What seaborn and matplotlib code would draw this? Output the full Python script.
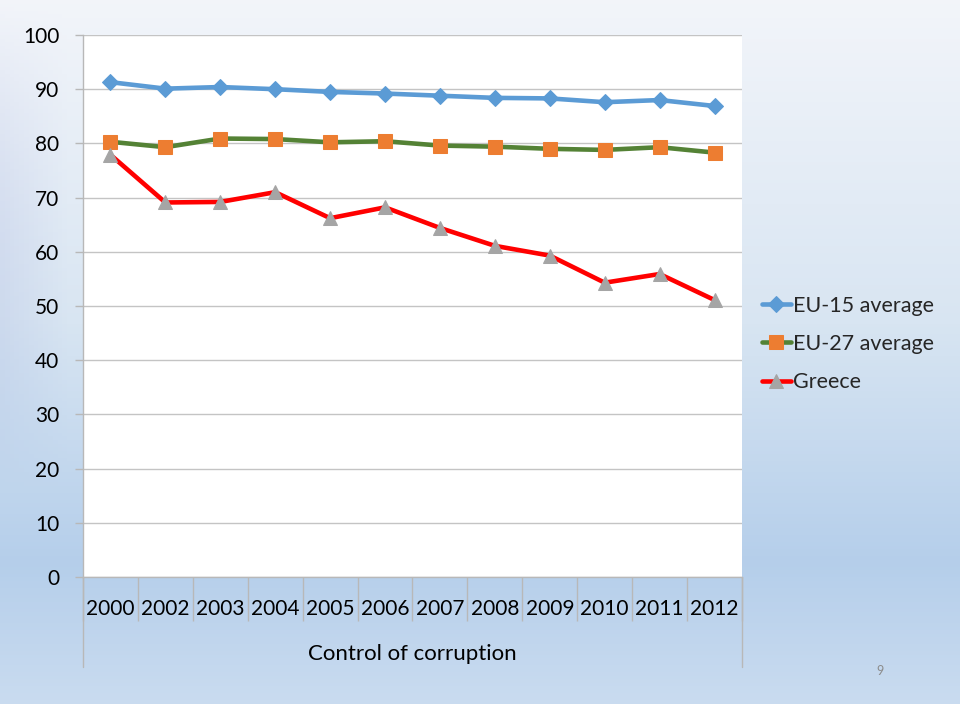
import numpy as np
import pandas as pd
import matplotlib
matplotlib.use('Agg')
import matplotlib.pyplot as plt
import seaborn as sns

# data
years = ['2000', '2002', '2003', '2004', '2005', '2006',
         '2007', '2008', '2009', '2010', '2011', '2012']
eu15 = [91.3, 90.1, 90.4, 90.0, 89.5, 89.2, 88.8, 88.4, 88.3, 87.6, 88.0, 86.9]
eu27 = [80.3, 79.3, 80.9, 80.8, 80.2, 80.4, 79.6, 79.4, 79.0, 78.8, 79.3, 78.3]
greece = [77.9, 69.1, 69.2, 71.0, 66.2, 68.2, 64.4, 61.1, 59.3, 54.3, 55.9, 51.1]
series_names = ['EU-15 average', 'EU-27 average', 'Greece']
axis_title = 'Control of corruption'

df = pd.DataFrame({'year': years, 'EU-15 average': eu15,
                   'EU-27 average': eu27, 'Greece': greece})

sns.set_style('white')
plt.rcParams['font.family'] = ['Lato', 'DejaVu Sans']

W, H = 960, 704
fig = plt.figure(figsize=(W / 100, H / 100), dpi=100)

# slide background: light-blue gradient
bg = fig.add_axes([0, 0, 1, 1], zorder=-10)
yy = np.linspace(0, 1, 200)[:, None]
xx = np.linspace(0, 1, 200)[None, :]
stops_y = [0.0, 0.45, 0.80, 1.0]
stops_c = np.array([[0.95, 0.96, 0.98], [0.85, 0.90, 0.95],
                    [0.71, 0.81, 0.92], [0.79, 0.86, 0.94]])
img = np.zeros((200, 200, 3))
for c in range(3):
    col = np.interp(yy[:, 0], stops_y, stops_c[:, c])[:, None]
    edge = 0.05 * np.clip(1 - xx / 0.07, 0, 1) * np.sin(np.pi * np.clip(yy / 0.7, 0, 1))
    img[:, :, c] = col - edge * (1.0 if c < 2 else 0.4)
bg.imshow(np.clip(img, 0, 1), aspect='auto', extent=[0, 1, 0, 1], origin='upper')
bg.axis('off')

# plot area
x0, x1, y0, y1 = 83, 742, 35, 577
ax = fig.add_axes([x0 / W, (H - y1) / H, (x1 - x0) / W, (y1 - y0) / H])
ax.set_facecolor('white')

styles = {
    'EU-15 average': dict(color='#5b9bd5', marker='D', markersize=8,
                          markerfacecolor='#5b9bd5', markeredgecolor='#5b9bd5'),
    'EU-27 average': dict(color='#548235', marker='s', markersize=10,
                          markerfacecolor='#ed7d31', markeredgecolor='#ed7d31'),
    'Greece': dict(color='#ff0000', marker='^', markersize=10,
                   markerfacecolor='#a5a5a5', markeredgecolor='#a5a5a5'),
}
for name in series_names:
    sns.lineplot(data=df, x='year', y=name, ax=ax, label=name,
                 linewidth=3.3, sort=False, **styles[name])

ax.set_xlim(-0.5, len(years) - 0.5)
ax.set_ylim(0, 100)
ax.set_yticks(range(0, 101, 10))
ax.set_xticks(range(len(years)))
ax.set_xticklabels(years)
ax.set_xlabel('')
ax.set_ylabel('')
ax.grid(axis='y', color='#c4c4c4', linewidth=1)
ax.set_axisbelow(True)
for s in ['top', 'right']:
    ax.spines[s].set_visible(False)
for s in ['left', 'bottom']:
    ax.spines[s].set_color('#b8b8b8')
    ax.spines[s].set_linewidth(1)

ax.tick_params(axis='y', length=6, width=1, color='#b8b8b8', pad=11,
               labelsize=15, labelcolor='black', left=True)
ax.tick_params(axis='x', which='major', length=0, pad=16,
               labelsize=15, labelcolor='black')
ax.set_xticks(np.arange(-0.5, len(years), 1), minor=True)
ax.tick_params(axis='x', which='minor', length=32, width=1,
               color='#b8b8b8', bottom=True)

# outer boundaries of the category axis reach down past the axis title
tr = ax.get_xaxis_transform()
for xb in [-0.5, len(years) - 0.5]:
    ax.plot([xb, xb], [0, -90 / (y1 - y0)], transform=tr, color='#b8b8b8',
            linewidth=1, clip_on=False)
ax.text(0.5, -77 / (y1 - y0), axis_title, transform=ax.transAxes,
        ha='center', va='center', fontsize=16, color='black')

# legend at the right
handles, labels = ax.get_legend_handles_labels()
if ax.legend_:
    ax.legend_.remove()
fig.legend(handles, labels, loc='center left',
           bbox_to_anchor=(753 / W, 1 - 344 / H), frameon=False,
           fontsize=15.5, handlelength=1.35, handletextpad=0.1,
           labelspacing=0.85, borderaxespad=0)

fig.text(880 / W, 1 - 671 / H, '9', ha='center', va='center',
         fontsize=9, color='#8c8c8c')

fig.savefig('out.png', dpi=100)
